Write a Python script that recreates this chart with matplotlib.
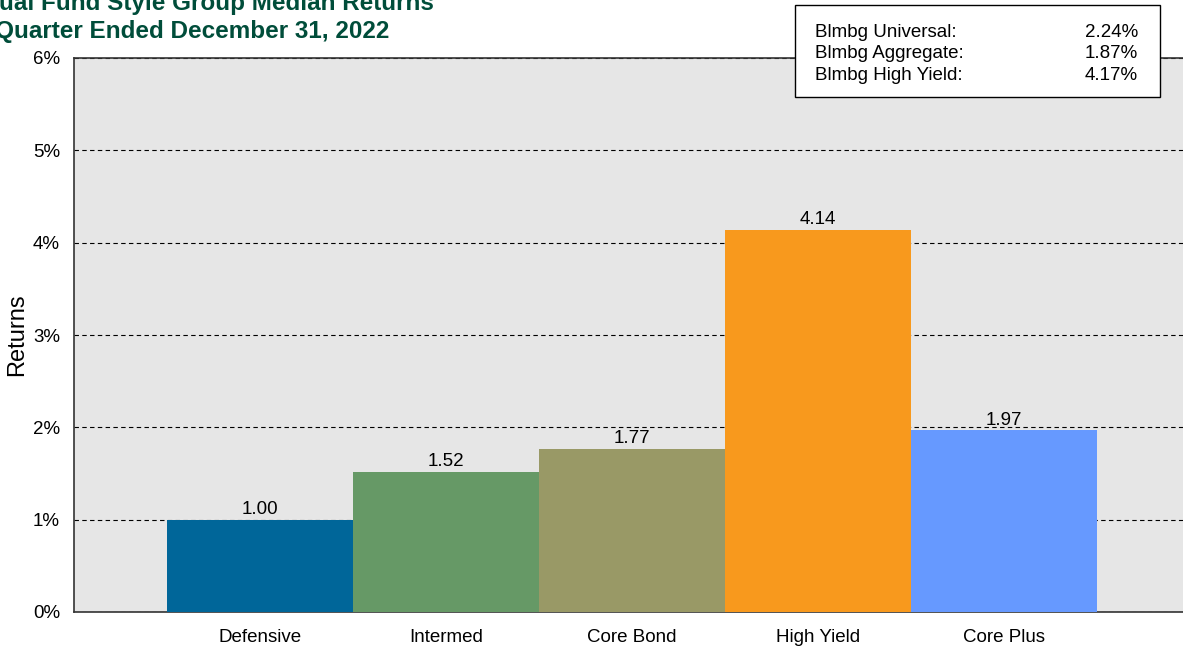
import matplotlib
matplotlib.use("Agg")
import matplotlib.pyplot as plt
from matplotlib.patches import Rectangle
import numpy as np

plt.rcParams['font.family'] = ['Liberation Sans', 'DejaVu Sans']

categories = ['Defensive', 'Intermed', 'Core Bond', 'High Yield', 'Core Plus']
returns = [1.00, 1.52, 1.77, 4.14, 1.97]
colors = ['#006699', '#669966', '#999966', '#F8991D', '#6699FF']

index_names = ['Blmbg Universal:', 'Blmbg Aggregate:', 'Blmbg High Yield:']
index_returns = [2.24, 1.87, 4.17]

title_lines = ['Mutual Fund Style Group Median Returns',
               'for Quarter Ended December 31, 2022']

W, H = 1183, 648
fig = plt.figure(figsize=(W / 100, H / 100), dpi=100)
ax = fig.add_axes([74 / W, 1 - 612 / H, 1116 / W, 554 / H])
ax.set_facecolor('#E6E6E6')

x = np.arange(len(categories))
bars = ax.bar(x, returns, width=1.0, color=colors, zorder=3)
for xi, v in zip(x, returns):
    ax.text(xi, v + 0.015, f'{v:.2f}', ha='center', va='bottom', fontsize=13.5, zorder=4)

ax.set_xlim(-1, 5)
ax.set_ylim(0, 6)
ax.set_yticks(range(0, 7))
ax.set_yticklabels([f'{i}%' for i in range(0, 7)])
ax.set_xticks(x)
ax.set_xticklabels(categories)
ax.tick_params(axis='both', length=0, labelsize=13.5)
ax.tick_params(axis='y', pad=10)
ax.tick_params(axis='x', pad=12)
ax.yaxis.grid(True, linestyle=(0, (4, 3)), color='black', linewidth=0.8, zorder=1)
ax.set_axisbelow(True)
ax.set_ylabel('Returns', fontsize=17)
ax.yaxis.set_label_coords(-46 / 1116, 0.5)
for s in ['left', 'bottom', 'top']:
    ax.spines[s].set_color('#333333')
    ax.spines[s].set_linewidth(1.2)
ax.spines['right'].set_visible(False)

# title, clipped at the left edge like the reference
fig.text(-44 / W, 1 - 10 / H, title_lines[0], ha='left', va='baseline',
         fontsize=17.5, fontweight='bold', color='#004D3A')
fig.text(-44 / W, 1 - 38 / H, title_lines[1], ha='left', va='baseline',
         fontsize=17.5, fontweight='bold', color='#004D3A')

# index returns box
box = Rectangle((795 / W, 1 - 97 / H), 365 / W, 92 / H, transform=fig.transFigure,
                facecolor='white', edgecolor='black', linewidth=1, zorder=5)
fig.add_artist(box)
for i, (name, val) in enumerate(zip(index_names, index_returns)):
    yy = 1 - (32.5 + 21.5 * i) / H
    fig.text(815 / W, yy, name, ha='left', va='center', fontsize=13.5, zorder=6)
    fig.text(1138 / W, yy, f'{val:.2f}%', ha='right', va='center', fontsize=13.5, zorder=6)

fig.savefig('out.png', dpi=100)
